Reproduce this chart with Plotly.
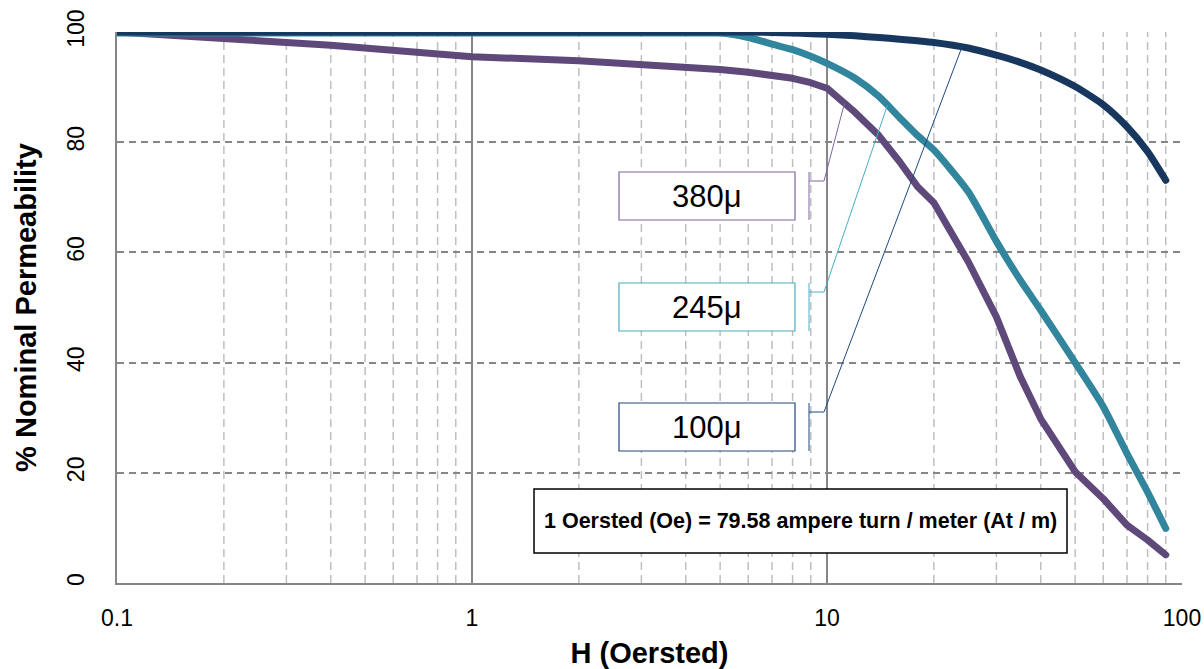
import math
import numpy as np
import plotly.graph_objects as go

# ---- data ----
H = [0.1, 0.2, 0.3, 0.4, 0.5, 0.6, 0.7, 0.8, 0.9, 1, 2, 3, 4, 5, 6, 7, 8, 9, 10,
     12, 14, 16, 18, 20, 25, 30, 35, 40, 50, 60, 70, 80, 90]

mu380 = [100, 99.0, 98.1, 97.6, 97.1, 96.6, 96.1, 96.0, 95.8, 95.5, 94.8, 94.2, 93.6,
         93.2, 92.7, 92.2, 91.6, 90.8, 89.8, 85.4, 81.2, 76.5, 71.9, 69.0, 58.3, 48.3,
         37.5, 29.8, 20.2, 15.3, 10.5, 7.8, 5.1]

mu245 = [99.8, 99.8, 99.8, 99.8, 99.8, 99.8, 99.8, 99.8, 99.8, 99.8, 99.8, 99.8, 99.8,
         99.8, 99.0, 97.8, 96.8, 95.6, 94.3, 91.6, 88.3, 84.5, 81.2, 78.6, 71.0, 62.0,
         55.0, 49.5, 40.0, 32.0, 23.5, 16.5, 9.9]

mu100 = [100, 100, 100, 100, 100, 100, 100, 100, 100, 100, 100, 100, 100,
         100, 100, 99.9, 99.8, 99.7, 99.6, 99.3, 99.0, 98.7, 98.4, 98.1, 97.1, 95.8,
         94.5, 93.1, 90.1, 86.8, 82.8, 78.3, 73.1]

series_names = ["380\u03bc", "245\u03bc", "100\u03bc"]
series_vals = [mu380, mu245, mu100]
line_colors = ["#5F497A", "#31859C", "#17375E"]
line_shapes = ["linear", "spline", "spline"]
box_colors = ["#8064A2", "#4BACC6", "#1F497D"]
callout_h = [11.2, 14.8, 24.0]   # where each callout's leader touches its curve

x_ticks = [0.1, 1, 10, 100]
x_tick_text = ["0.1", "1", "10", "100"]
y_ticks = [0, 20, 40, 60, 80, 100]

note_text = "1 Oersted (Oe) = 79.58 ampere turn / meter (At / m)"

# ---- layout geometry (pixels of the 1204x669 canvas) ----
W, HGT = 1204, 669
L, R, T, B = 117, 1182, 32, 583
FONT = "Liberation Sans, Arial, sans-serif"


def px_x(p):
    return (p - L) / (R - L)


def px_y(p):
    return (B - p) / (B - T)


fig = go.Figure()

for name, vals, col, shp in zip(series_names, series_vals, line_colors, line_shapes):
    fig.add_trace(go.Scatter(x=H, y=vals, mode="lines", name=name,
                             line=dict(color=col, width=7, shape=shp, smoothing=0.6),
                             showlegend=False, hoverinfo="skip"))

shapes = []
# minor vertical gridlines
for dec in [0.1, 1, 10]:
    for k in range(2, 10):
        xv = dec * k
        shapes.append(dict(type="line", xref="x", yref="paper", x0=xv, x1=xv,
                           y0=0, y1=1, layer="below",
                           line=dict(color="#BFBFBF", width=1.5, dash="8px,5px")))

annotations = []
# callout boxes
box_tops = [172, 283, 403]
for name, vals, bcol, hx, top in zip(series_names, series_vals, box_colors,
                                     callout_h, box_tops):
    bot = top + 48
    shapes.append(dict(type="rect", xref="paper", yref="paper",
                       x0=px_x(619), x1=px_x(795), y0=px_y(bot), y1=px_y(top),
                       line=dict(color=bcol, width=1.2), fillcolor="white", layer="above"))
    annotations.append(dict(xref="paper", yref="paper", x=px_x(707), y=px_y(top + 24),
                            text=name, showarrow=False,
                            font=dict(family=FONT, size=31, color="black"),
                            xanchor="center", yanchor="middle"))
    # bracket
    shapes.append(dict(type="line", xref="paper", yref="paper",
                       x0=px_x(809), x1=px_x(809), y0=px_y(top), y1=px_y(bot),
                       line=dict(color=bcol, width=1), layer="above"))
    shapes.append(dict(type="line", xref="paper", yref="paper",
                       x0=px_x(809), x1=px_x(824), y0=px_y(top + 9), y1=px_y(top + 9),
                       line=dict(color=bcol, width=1), layer="above"))
    # leader to the curve
    yv = float(np.interp(math.log10(hx), np.log10(H), vals))
    shapes.append(dict(type="line", xref="paper", yref="paper",
                       x0=px_x(824), y0=px_y(top + 9),
                       x1=(math.log10(hx) + 1) / 3, y1=yv / 100,
                       line=dict(color=bcol, width=1), layer="above"))

# note box
shapes.append(dict(type="rect", xref="paper", yref="paper",
                   x0=px_x(534), x1=px_x(1067), y0=px_y(553), y1=px_y(489),
                   line=dict(color="black", width=1.5), fillcolor="white", layer="above"))
annotations.append(dict(xref="paper", yref="paper", x=px_x(800.5), y=px_y(521),
                        text="<b>" + note_text + "</b>", showarrow=False,
                        font=dict(family=FONT, size=21.5, color="black"),
                        xanchor="center", yanchor="middle"))

fig.update_layout(
    width=W, height=HGT,
    margin=dict(l=L, r=W - R, t=T, b=HGT - B, autoexpand=False),
    paper_bgcolor="white", plot_bgcolor="white",
    font=dict(family=FONT, color="black"),
    shapes=shapes, annotations=annotations,
    xaxis=dict(type="log", range=[-1, 2], tickvals=x_ticks, ticktext=x_tick_text,
               showgrid=True, gridcolor="#868686", gridwidth=1.5,
               showline=True, linecolor="#868686", linewidth=1.5,
               ticks="", ticklabelstandoff=14, automargin=False,
               tickfont=dict(family=FONT, size=23, color="black"),
               title=dict(text="<b>H (Oersted)</b>", standoff=12,
                          font=dict(family=FONT, size=29, color="black")),
               zeroline=False),
    yaxis=dict(range=[0, 100], tickvals=y_ticks, tickangle=-90,
               showgrid=True, gridcolor="#868686", gridwidth=1.5, griddash="7px,5px",
               showline=True, linecolor="#868686", linewidth=1.5,
               ticks="", ticklabelstandoff=22, automargin=False,
               tickfont=dict(family=FONT, size=23, color="black"),
               title=dict(text="<b>% Nominal Permeability</b>", standoff=18,
                          font=dict(family=FONT, size=29, color="black")),
               zeroline=False),
)

fig.write_html("out.html",
               config={"displayModeBar": False},
               post_script="document.body.style.margin='0px';"
                           "document.body.style.overflow='hidden';"
                           "document.querySelectorAll('.js-line').forEach(function(p){"
                           "p.style.strokeLinecap='round';p.style.strokeLinejoin='round';});")
